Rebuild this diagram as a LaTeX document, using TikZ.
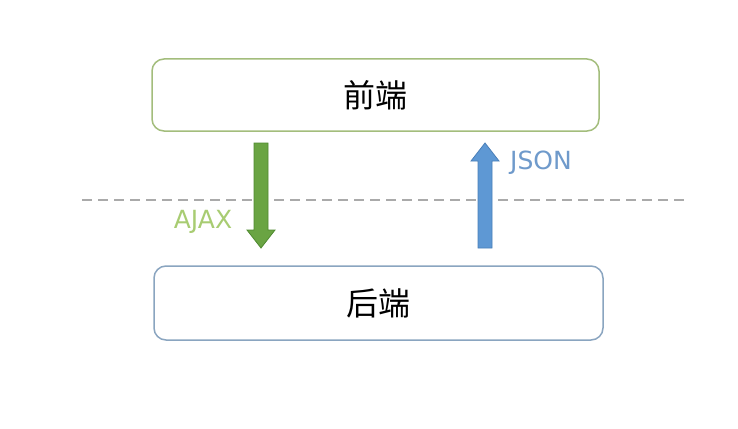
\documentclass[tikz,border=0pt]{standalone}
\usepackage{fontspec}
\setmainfont{DejaVu Sans}
\newfontfamily\cjk{Noto Sans CJK SC}
\usetikzlibrary{calc}
\definecolor{topline}{HTML}{A3BD7C}
\definecolor{botline}{HTML}{8AA5C0}
\definecolor{gfill}{HTML}{6AA443}
\definecolor{gedge}{HTML}{4F8A30}
\definecolor{bfill}{HTML}{5E98D4}
\definecolor{bedge}{HTML}{4A7FB8}
\definecolor{ajaxc}{HTML}{A8CC72}
\definecolor{jsonc}{HTML}{6F9ACB}
\definecolor{dashc}{HTML}{AAAAAA}
\tikzset{
  box/.style={draw, rounded corners=12pt, line width=1.5pt, minimum width=447pt, minimum height=72pt, font=\cjk\fontsize{32}{36}\selectfont},
  lbl/.style={font=\fontsize{25}{30}\selectfont, inner sep=0pt}
}
\begin{document}
\begin{tikzpicture}[x=1pt,y=-1pt]
\useasboundingbox (0,0) rectangle (738,428);
\fill[white] (0,0) rectangle (738,428);
\node[box, draw=topline] (front) at (375.5,95) {前端};
\node[box, draw=botline, minimum width=449pt, minimum height=74pt] (back) at (378.5,303) {后端};
\draw[dashc, line width=1.8pt, dash pattern=on 10pt off 6pt] (82,200) coordinate (dl) -- (685,200) coordinate (dr);
% green down arrow
\filldraw[fill=gfill, draw=gedge, line width=0.8pt]
  (254,143) -- (268,143) -- (268,230) -- (275,230) -- (261,248) -- (247,230) -- (254,230) -- cycle;
% blue up arrow
\filldraw[fill=bfill, draw=bedge, line width=0.8pt]
  (478,248) -- (492,248) -- (492,161) -- (499,161) -- (485,143) -- (471,161) -- (478,161) -- cycle;
\node[lbl, text=ajaxc] (ajax) at (203,222) {AJAX};
\node[lbl, text=jsonc] (json) at (541,163) {JSON};
\end{tikzpicture}
\end{document}
